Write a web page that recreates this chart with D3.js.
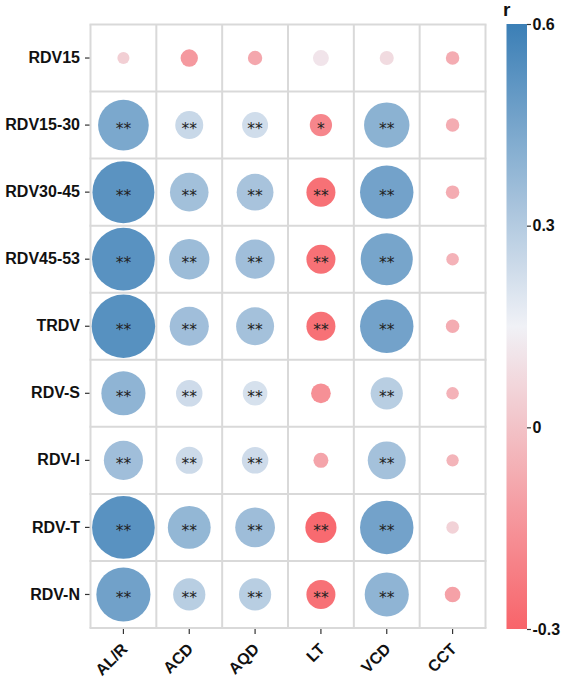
<!DOCTYPE html>
<html>
<head>
<meta charset="utf-8">
<script src="https://cdn.jsdelivr.net/npm/d3@7"></script>
<style>
  body { margin: 0; background: #fff; }
  svg { display: block; font-family: "Liberation Sans", Arial, sans-serif; }
</style>
</head>
<body>
<svg id="chart" width="566" height="678"></svg>
<script>
"use strict";

// rows / columns of the correlation matrix
const rowNames = ["RDV15", "RDV15-30", "RDV30-45", "RDV45-53", "TRDV", "RDV-S", "RDV-I", "RDV-T", "RDV-N"];
const colNames = ["AL/R", "ACD", "AQD", "LT", "VCD", "CCT"];

// r values, one array per row (AL/R, ACD, AQD, LT, VCD, CCT)
const rRDV15    = [0.04, -0.13, -0.085, 0.11, 0.08, -0.07];
const rRDV15_30 = [0.44, 0.25, 0.23, -0.19, 0.40, -0.07];
const rRDV30_45 = [0.52, 0.345, 0.33, -0.26, 0.46, -0.07];
const rRDV45_53 = [0.525, 0.36, 0.35, -0.26, 0.45, -0.05];
const rTRDV     = [0.53, 0.35, 0.34, -0.26, 0.46, -0.07];
const rRDV_S    = [0.39, 0.235, 0.215, -0.16, 0.29, -0.05];
const rRDV_I    = [0.35, 0.24, 0.235, -0.095, 0.34, -0.045];
const rRDV_T    = [0.525, 0.38, 0.355, -0.28, 0.46, 0.05];
const rRDV_N    = [0.465, 0.29, 0.29, -0.26, 0.39, -0.105];

// significance marks
const sigRDV15    = ["", "", "", "", "", ""];
const sigRDV15_30 = ["**", "**", "**", "*", "**", ""];
const sigRDV30_45 = ["**", "**", "**", "**", "**", ""];
const sigRDV45_53 = ["**", "**", "**", "**", "**", ""];
const sigTRDV     = ["**", "**", "**", "**", "**", ""];
const sigRDV_S    = ["**", "**", "**", "", "**", ""];
const sigRDV_I    = ["**", "**", "**", "", "**", ""];
const sigRDV_T    = ["**", "**", "**", "**", "**", ""];
const sigRDV_N    = ["**", "**", "**", "**", "**", ""];

const legendTicks = [0.6, 0.3, 0, -0.3];

const rValues = [rRDV15, rRDV15_30, rRDV30_45, rRDV45_53, rTRDV, rRDV_S, rRDV_I, rRDV_T, rRDV_N];
const sigValues = [sigRDV15, sigRDV15_30, sigRDV30_45, sigRDV45_53, sigTRDV, sigRDV_S, sigRDV_I, sigRDV_T, sigRDV_N];

let cells = [];
rowNames.forEach(function(row, i) {
  colNames.forEach(function(col, j) {
    cells.push({row: row, col: col, r: rValues[i][j], sig: sigValues[i][j]});
  });
});

let svg = d3.select("#chart"),
  pLeft = 90.5, pRight = 485.5, pTop = 24.5, pBottom = 628,
  x = d3.scaleBand().domain(colNames).range([pLeft, pRight]),
  y = d3.scaleBand().domain(rowNames).range([pTop, pBottom]),
  color = d3.scaleLinear().domain([-0.3, 0.15, 0.6]).range(["#f8646a", "#f0f1f6", "#3b7fb6"]),
  size = d3.scalePow().exponent(1.5).domain([0, 0.6]).range([5.5, 37.1])
;

svg.append("rect").attr("width", 566).attr("height", 678).attr("fill", "#fff");

// grid
let grid = svg.append("g").attr("stroke", "#d9d9d9").attr("stroke-width", 2);
colNames.concat([null]).forEach(function(c) {
  let xx = c === null ? pRight : x(c);
  grid.append("line").attr("x1", xx).attr("x2", xx).attr("y1", pTop).attr("y2", pBottom);
});
rowNames.concat([null]).forEach(function(r) {
  let yy = r === null ? pBottom : y(r);
  grid.append("line").attr("x1", pLeft - 1).attr("x2", pRight + 1).attr("y1", yy).attr("y2", yy);
});

// circles
svg.append("g").selectAll("circle")
  .data(cells)
  .enter()
  .append("circle")
  .attr("cx", function(d) { return x(d.col) + x.bandwidth() / 2; })
  .attr("cy", function(d) { return y(d.row) + y.bandwidth() / 2; })
  .attr("r", function(d) { return size(Math.abs(d.r)); })
  .attr("fill", function(d) { return color(d.r); })
;

svg.append("g").selectAll("text")
  .data(cells.filter(function(d) { return d.sig; }))
  .enter()
  .append("text")
  .attr("x", function(d) { return x(d.col) + x.bandwidth() / 2; })
  .attr("y", function(d) { return y(d.row) + y.bandwidth() / 2 + 9; })
  .attr("text-anchor", "middle")
  .attr("font-family", "DejaVu Sans, sans-serif")
  .attr("font-size", 15.5)
  .attr("fill", "#222")
  .text(function(d) { return d.sig; })
;

// axes
let yAxis = svg.append("g")
  .attr("transform", "translate(89.5,0)")
  .call(d3.axisLeft(y).tickSize(4.5).tickPadding(5));
yAxis.select(".domain").remove();
yAxis.selectAll("line").attr("stroke", "#333").attr("stroke-width", 1.2);
yAxis.selectAll("text")
  .attr("font-size", 16)
  .attr("font-weight", "bold")
  .attr("font-family", "Liberation Sans, Arial, sans-serif")
  .attr("fill", "#111");

let xAxis = svg.append("g")
  .attr("transform", "translate(0,629)")
  .call(d3.axisBottom(x).tickSize(5));
xAxis.select(".domain").remove();
xAxis.selectAll("line").attr("stroke", "#333").attr("stroke-width", 1.2);
xAxis.selectAll("text")
  .attr("y", 0)
  .attr("dy", null)
  .attr("transform", "translate(5,21) rotate(-45)")
  .attr("text-anchor", "end")
  .attr("font-size", 16)
  .attr("font-weight", "bold")
  .attr("font-family", "Liberation Sans, Arial, sans-serif")
  .attr("fill", "#111");

// colour bar
let legY = d3.scaleLinear().domain([-0.3, 0.6]).range([629, 24]),
  grad = svg.append("defs").append("linearGradient")
    .attr("id", "rgrad")
    .attr("x1", 0).attr("y1", 1).attr("x2", 0).attr("y2", 0);

d3.range(0, 1.0001, 0.05).forEach(function(t) {
  grad.append("stop")
    .attr("offset", t)
    .attr("stop-color", color(-0.3 + t * 0.9));
});

svg.append("rect")
  .attr("x", 506.5)
  .attr("y", legY(0.6))
  .attr("width", 20.5)
  .attr("height", legY(-0.3) - legY(0.6))
  .attr("fill", "url(#rgrad)");

let legAxis = svg.append("g")
  .attr("transform", "translate(527,0)")
  .call(d3.axisRight(legY).tickValues(legendTicks).tickSize(4).tickPadding(1.5)
    .tickFormat(function(d) { return String(d); }));
legAxis.select(".domain").remove();
legAxis.selectAll("line").attr("stroke", "#333").attr("stroke-width", 1.2);
legAxis.selectAll("text")
  .attr("font-size", 16)
  .attr("font-weight", "bold")
  .attr("font-family", "Liberation Sans, Arial, sans-serif")
  .attr("fill", "#111");

svg.append("text")
  .attr("x", 503)
  .attr("y", 16)
  .attr("font-size", 19)
  .attr("font-weight", "bold")
  .attr("fill", "#111")
  .text("r");
</script>
</body>
</html>
